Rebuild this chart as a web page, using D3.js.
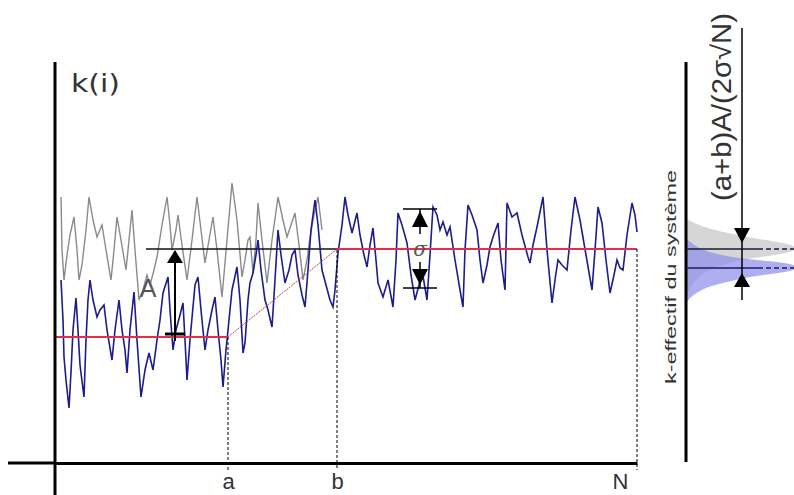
<!DOCTYPE html>
<html><head><meta charset="utf-8">
<script src="https://cdn.jsdelivr.net/npm/d3@7"></script>
<style>body{margin:0;background:#fff}svg{display:block}</style>
</head><body>
<script>
// ---- data (iteration, k) ----
const N = 582, A_IT = 173, B_IT = 282;
const kLow = 126, kHigh = 214, kBiased = 195;
const blueIter = [6,8,9,11,14,16,18,21,23,25,29,31,33,35,38,42,45,49,52,57,60,64,67,70,72,75,79,82,86,90,94,98,102,105,108,113,115,118,121,125,128,130,132,135,140,143,146,150,153,157,160,163,166,168,171,174,177,182,185,188,190,193,195,198,201,203,206,210,213,217,220,223,226,230,234,237,240,243,247,250,253,256,260,263,267,271,275,278,280,283,287,290,293,297,302,305,309,312,315,318,321,323,328,333,338,341,343,347,352,356,360,364,367,372,375,378,382,385,388,392,395,400,405,408,410,413,417,422,425,428,432,435,438,443,446,450,452,457,462,467,473,475,478,482,488,492,497,500,503,507,512,516,520,525,531,537,540,543,547,551,555,559,562,565,568,572,577,580,582];
const blueK = [183,143,106,83,55,91,133,165,133,98,66,123,163,183,163,146,153,158,133,103,133,163,133,113,90,133,171,123,66,93,110,93,123,143,170,186,153,113,133,148,160,123,83,123,178,186,153,113,133,153,166,133,103,76,113,143,173,196,163,110,120,163,180,190,208,223,193,163,153,136,183,233,208,180,193,208,213,188,168,156,193,233,263,238,193,178,163,156,173,210,238,266,248,230,250,228,208,196,218,235,203,180,166,183,156,203,250,238,220,188,163,178,193,163,208,256,248,233,241,228,236,203,173,156,213,258,248,233,203,180,198,216,226,240,203,173,260,246,250,228,206,200,218,236,266,213,160,183,203,198,193,233,266,243,208,173,213,256,240,203,170,188,203,195,193,228,260,248,231];
const grayIter = [6,7,9,12,15,19,22,24,27,31,34,38,42,47,51,56,59,62,66,71,74,77,80,84,88,92,95,99,102,107,112,115,117,121,123,127,132,137,142,146,150,154,158,162,167,172,177,182,187,190,193,195,198,201,203,207,212,217,223,228,232,236,240,244,248,252,255,259,263,267];
const grayK = [266,213,183,208,228,246,213,183,198,233,266,243,226,238,213,183,213,246,223,193,223,253,213,163,173,188,178,193,206,238,266,238,213,233,248,218,183,223,266,233,200,223,246,213,166,223,280,243,186,203,223,226,190,223,260,223,180,223,266,243,226,238,250,218,183,203,226,248,266,233];
const meanIter = [0, A_IT, B_IT, N];
const meanK = [kLow, kLow, kHigh, kHigh];
// density profiles on the right panel: k value, relative density
const grayDensK = [245,241,237,233,230,227,223,220,217,214,211,208,205,201,197,191,183,173,165];
const grayDensV = [0,6,16,30,44,60,82,104,114,118,110,95,70,48,34,20,10,3,0];
const blueDensK = [225,221,217,213,210,207,204,201,198,195,192,189,186,183,179,175,170,164,159];
const blueDensV = [0,4,10,18,28,42,62,100,115,118,112,90,66,52,34,20,10,3,0];
const tickLabels = ["a", "b", "N"];

const W = 794, H = 495;
const svg = d3.select("body").append("svg").attr("width", W).attr("height", H);
const x = d3.scaleLinear().domain([0, N]).range([55, 637]);
const y = d3.scaleLinear().domain([0, 400]).range([463, 63]);
const dx = d3.scaleLinear().domain([0, 118]).range([686, 798]);

const zip = (a, b) => a.map((v, i) => [v, b[i]]);
const blue = zip(blueIter, blueK), gray = zip(grayIter, grayK);
const line = d3.line().x(d => x(d[0])).y(d => y(d[1]));

// right panel densities
const area = d3.area().y(d => y(d[0])).x0(dx(0)).x1(d => dx(d[1])).curve(d3.curveBasis);
svg.append("path").datum(zip(grayDensK, grayDensV)).attr("d", area).attr("fill", "#d6d6d6");
svg.append("path").datum(zip(blueDensK, blueDensV)).attr("d", area).attr("fill", "#8c8cea").attr("fill-opacity", 0.7);

// gray series
svg.append("path").datum(gray).attr("d", line).attr("fill", "none").attr("stroke", "#8a8a8a").attr("stroke-width", 1.4);

// reference line at true mean (A annotation)
svg.append("line").attr("x1", 146).attr("x2", x(B_IT)).attr("y1", y(kHigh)).attr("y2", y(kHigh))
  .attr("stroke", "#111").attr("stroke-width", 1.5);

// blue series
svg.append("path").datum(blue).attr("d", line).attr("fill", "none").attr("stroke", "#1c1c8c").attr("stroke-width", 1.6);

// mean profile (red)
const mean = zip(meanIter, meanK);
svg.append("path").datum(mean.slice(0, 2)).attr("d", line).attr("fill", "none").attr("stroke", "#e0304a").attr("stroke-width", 2);
svg.append("path").datum(mean.slice(1, 3)).attr("d", line).attr("fill", "none").attr("stroke", "#b04848").attr("stroke-width", 1).attr("stroke-dasharray", "2,1");
svg.append("path").datum(mean.slice(2, 4)).attr("d", line).attr("fill", "none").attr("stroke", "#e0304a").attr("stroke-width", 2);

// dashed verticals
[[A_IT, kLow], [B_IT, kHigh - 1], [N, kHigh]].forEach(([it, k]) => {
  svg.append("line").attr("x1", x(it)).attr("x2", x(it)).attr("y1", y(k)).attr("y2", 470)
    .attr("stroke", "#000").attr("stroke-width", 1).attr("stroke-dasharray", "3,2");
});

// axes
const xAxis = d3.axisBottom(x).tickValues([A_IT, B_IT, N]).tickFormat((d, i) => tickLabels[i]).tickSize(0).tickPadding(10);
const gx = svg.append("g").attr("transform", `translate(0,${y(0)})`).call(xAxis);
gx.select(".domain").attr("stroke", "#000").attr("stroke-width", 3);
gx.selectAll("text").attr("font-family", "Liberation Sans, Arial, sans-serif").attr("font-size", 22).attr("fill", "#333")
  .attr("dx", (d, i) => i === 2 ? -17 : 0);
svg.append("line").attr("x1", 8).attr("x2", x(0)).attr("y1", y(0)).attr("y2", y(0)).attr("stroke", "#000").attr("stroke-width", 3);
svg.append("line").attr("x1", x(0)).attr("x2", x(0)).attr("y1", 62).attr("y2", 495).attr("stroke", "#000").attr("stroke-width", 3);
svg.append("line").attr("x1", 686).attr("x2", 686).attr("y1", 62).attr("y2", 462).attr("stroke", "#000").attr("stroke-width", 3);

svg.append("text").attr("x", 71).attr("y", 92).text("k(i)")
  .attr("font-family", "DejaVu Sans, sans-serif").attr("font-size", 25).attr("fill", "#333")
  .attr("textLength", 49).attr("lengthAdjust", "spacingAndGlyphs");

// arrow helper
function tri(cx, tip, base, hw) {
  return `M${cx},${tip}L${cx - hw},${base}L${cx + hw},${base}Z`;
}
// A annotation
svg.append("line").attr("x1", 175).attr("x2", 175).attr("y1", y(kHigh) + 2).attr("y2", y(kLow) + 4).attr("stroke", "#000").attr("stroke-width", 2);
svg.append("line").attr("x1", 165).attr("x2", 185).attr("y1", y(kLow) - 3).attr("y2", y(kLow) - 3).attr("stroke", "#000").attr("stroke-width", 3);
svg.append("path").attr("d", tri(175, y(kHigh) + 1, y(kHigh) + 14, 8)).attr("fill", "#000");
svg.append("text").attr("x", 148).attr("y", 297).attr("text-anchor", "middle").text("A")
  .attr("font-family", "Liberation Sans, Arial, sans-serif").attr("font-size", 25).attr("fill", "#555");

// sigma annotation
const sx = 420, sTop = 209, sBot = 288;
svg.append("line").attr("x1", 403).attr("x2", 437).attr("y1", sTop).attr("y2", sTop).attr("stroke", "#000").attr("stroke-width", 1.5);
svg.append("line").attr("x1", 403).attr("x2", 437).attr("y1", sBot).attr("y2", sBot).attr("stroke", "#000").attr("stroke-width", 1.5);
svg.append("line").attr("x1", sx).attr("x2", sx).attr("y1", sTop).attr("y2", 234).attr("stroke", "#000").attr("stroke-width", 1.5);
svg.append("line").attr("x1", sx).attr("x2", sx).attr("y1", 262).attr("y2", sBot).attr("stroke", "#000").attr("stroke-width", 1.5);
svg.append("path").attr("d", tri(sx, sTop + 2, sTop + 18, 8)).attr("fill", "#000");
svg.append("path").attr("d", tri(sx, sBot - 3, sBot - 19, 8)).attr("fill", "#000");
svg.append("text").attr("x", sx).attr("y", 256).attr("text-anchor", "middle").text("σ")
  .attr("font-family", "DejaVu Serif, serif").attr("font-style", "italic").attr("font-size", 20).attr("fill", "#555");

// right panel annotation
[[kHigh, "#1a1a3a"], [kBiased, "#1a1a6a"]].forEach(([k, c]) => {
  svg.append("line").attr("x1", 686).attr("x2", 758).attr("y1", y(k)).attr("y2", y(k)).attr("stroke", c).attr("stroke-width", 1.5);
  svg.append("line").attr("x1", 758).attr("x2", 794).attr("y1", y(k)).attr("y2", y(k)).attr("stroke", c).attr("stroke-width", 1.5).attr("stroke-dasharray", "5,3");
});
svg.append("line").attr("x1", 742).attr("x2", 742).attr("y1", 28).attr("y2", 300).attr("stroke", "#000").attr("stroke-width", 1.5);
svg.append("path").attr("d", tri(742, y(kHigh) - 6, y(kHigh) - 21, 8)).attr("fill", "#000");
svg.append("path").attr("d", tri(742, y(kBiased) + 5, y(kBiased) + 19, 8)).attr("fill", "#000");

svg.append("text").attr("transform", "translate(676,277) rotate(-90)").attr("text-anchor", "middle")
  .text("k-effectif du système").attr("font-family", "Liberation Sans, Arial, sans-serif").attr("font-size", 15).attr("fill", "#333")
  .attr("textLength", 214).attr("lengthAdjust", "spacingAndGlyphs");
svg.append("text").attr("transform", "translate(731,107) rotate(-90)").attr("text-anchor", "middle")
  .text("(a+b)A/(2σ√N)").attr("font-family", "Liberation Sans, Arial, sans-serif").attr("font-size", 27).attr("fill", "#333")
  .attr("textLength", 188).attr("lengthAdjust", "spacingAndGlyphs");
</script>
</body></html>
